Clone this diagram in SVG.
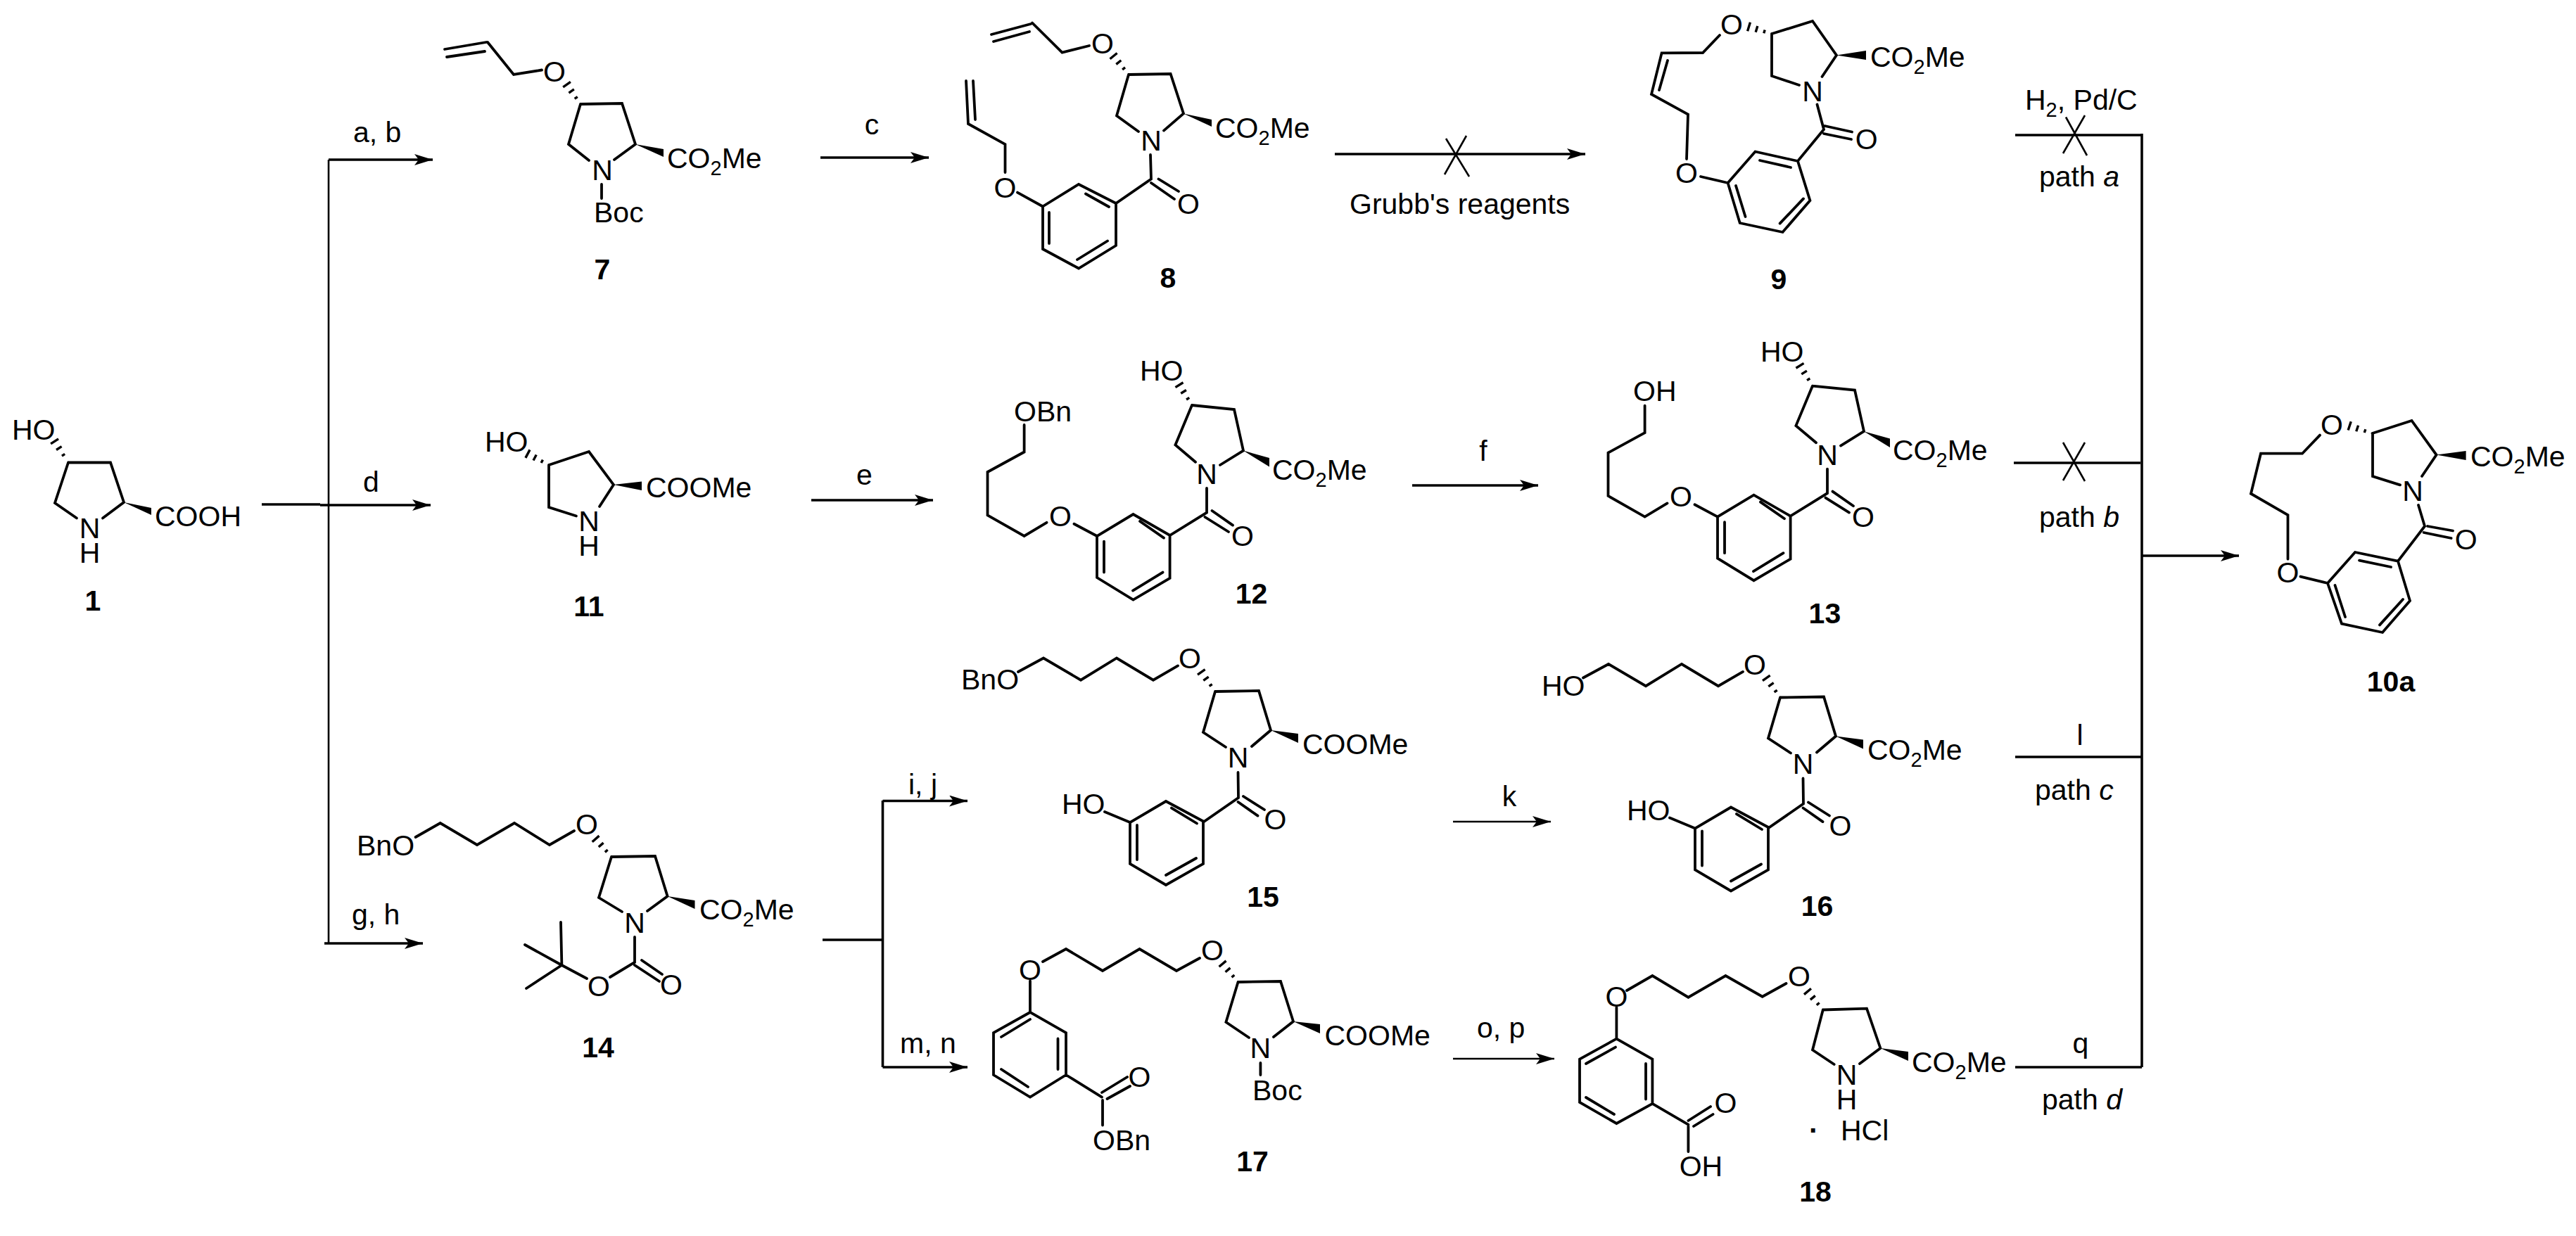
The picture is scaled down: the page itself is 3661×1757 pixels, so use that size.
<svg xmlns="http://www.w3.org/2000/svg" xmlns:xlink="http://www.w3.org/1999/xlink" width="3661" height="1757" viewBox="0 0 3661 1757">
<style>
text{font-family:"Liberation Sans",Arial,sans-serif;font-size:41px;fill:#000}
.m{text-anchor:middle}
.l{font-weight:bold;text-anchor:middle}
.s{font-size:29px}
.i{font-style:italic}
.d{font-weight:bold}
.b{fill:none;stroke:#000;stroke-width:3.8;stroke-linejoin:miter;stroke-linecap:round}
.h{fill:none;stroke:#000;stroke-width:3.4}
.c{fill:none;stroke:#000;stroke-width:3.6}
.a{marker-end:url(#ah)}
.x{fill:none;stroke:#000;stroke-width:2.6}
</style>
<defs>
<marker id="ah" markerUnits="userSpaceOnUse" markerWidth="27" markerHeight="16" refX="26" refY="8" orient="auto"><path d="M26,8L0,0L6,8L0,16Z"/></marker>
<path id="hash" class="h" d="M11,-2.5V2.5M22.5,-4.5V4.5M34,-6.5V6.5"/>
<g id="sk12">
<path class="b" d="M1694,576L1754,582L1767,640.6L1734,661M1699,656.7L1670.4,632.5L1694,576M1715,694V728.6L1662.6,761L1610.5,731L1559,762V821L1610.5,852.6L1662.6,822V761M1722.5,726L1752,746.6M1712.5,735L1746,756M1620,741L1654,764.6M1569,769.6V813.6M1610,839.6L1652.5,813.6M1526.5,744.7L1559,762M1487.5,742.8L1455.6,762L1403.5,732.4V671L1455.6,642.5V604"/>
<use href="#hash" xlink:href="#hash" transform="translate(1694,576) rotate(-122)"/>
<polygon points="1767,640.6 1804,651 1804,663.5"/>
</g>
<g id="sk15">
<path class="b" d="M1447,955L1483,935.5L1536,966.7L1587,935.5L1639,966.7L1674,946.4M1727,983L1789,982L1806,1038L1779,1061M1742,1062L1710,1041L1727,983M1759.5,1098L1760,1134L1711,1168L1657,1139L1606,1169V1228L1657,1258L1710,1228V1168M1767,1132L1797,1151M1759.5,1140L1787.5,1159.6M1665,1148.6L1701,1170.5M1616,1173V1222M1657,1244L1700,1220M1570,1154L1606,1169"/>
<use href="#hash" xlink:href="#hash" transform="translate(1727,983) rotate(-125.4)"/>
<polygon points="1806,1038 1845,1043 1845,1056"/>
</g>
</defs>
<rect width="3661" height="1757" fill="#fff"/>
<g id="connectors">
<path class="c a" d="M467,227H615"/>
<path class="x" d="M467,227V1341"/>
<path class="c a" d="M461,1341H601"/>
<path class="c" d="M372,717H455"/>
<path class="c a" d="M455,718H612"/>
<path class="c a" d="M1166,224H1320"/>
<path class="c a" d="M1897,219H2253"/>
<path class="x" d="M2055,197L2088,251M2084,193L2053,248"/>
<path class="c a" d="M1153,711H1326"/>
<path class="c a" d="M2007,690H2186"/>
<path class="c" d="M1169,1336H1254.5M1254.5,1138V1517"/>
<path class="c a" d="M1254.5,1138.5H1375"/>
<path class="c a" d="M1254.5,1517H1375"/>
<path class="x a" d="M2065,1168H2204"/>
<path class="x a" d="M2065,1505H2209"/>
<path class="c" d="M3044,190V1517"/>
<path class="c" d="M2864,192H3044"/>
<path class="x" d="M2963,164L2932,218M2936,166.5L2966,221"/>
<path class="c" d="M2862,658H3042"/>
<path class="x" d="M2932,629L2963,684M2963,629L2932,683"/>
<path class="c a" d="M3045,790H3182"/>
<path class="c" d="M2864,1076H3044"/>
<path class="c" d="M2864,1517H3044"/>
<text x="502" y="202">a, b</text>
<text x="516" y="699">d</text>
<text x="500" y="1314">g, h</text>
<text class="m" x="1239" y="191">c</text>
<text x="1918" y="304">Grubb's reagents</text>
<text x="1217" y="689">e</text>
<text class="m" x="2108" y="655">f</text>
<text x="1291" y="1129">i, j</text>
<text x="1279" y="1497">m, n</text>
<text class="m" x="2145" y="1146">k</text>
<text x="2099" y="1475">o, p</text>
<text x="2878" y="156">H<tspan class="s" dy="10">2</tspan><tspan dy="-10">, Pd/C</tspan></text>
<text x="2898" y="265">path <tspan class="i">a</tspan></text>
<text x="2898" y="749">path <tspan class="i">b</tspan></text>
<text class="m" x="2956" y="1059">l</text>
<text x="2892" y="1137">path <tspan class="i">c</tspan></text>
<text class="m" x="2957" y="1497">q</text>
<text x="2902" y="1577">path <tspan class="i">d</tspan></text>
</g>
<g id="c1">
<path class="b" d="M97,657.5H157L176,714L146,736.5M109,736.5L78,715L97,657.5"/>
<use href="#hash" xlink:href="#hash" transform="translate(96,656) rotate(-122.8)"/>
<polygon points="176,714 215,722 215,732"/>
<text x="17" y="625">HO</text>
<text x="220" y="748">COOH</text>
<text class="m" x="127.5" y="765">N<tspan x="127.5" dy="35">H</tspan></text>
<text class="l" x="132" y="868">1</text>
</g>
<g id="c7">
<path class="b" d="M632,70L691,60M635,81L689,73M693,60L730,106L770,99.5M825,148L884,147L903,205L873,227M837,228L808,205L825,148M855,262V282"/>
<use href="#hash" xlink:href="#hash" transform="translate(825,148) rotate(-124.9)"/>
<polygon points="903,205 943,212 943,223"/>
<text class="m" x="788" y="116">O</text>
<text class="m" x="856" y="256">N</text>
<text x="948" y="239">CO<tspan class="s" dy="10">2</tspan><tspan dy="-10">Me</tspan></text>
<text x="844" y="316">Boc</text>
<text class="l" x="856" y="397">7</text>
</g>
<g id="c8">
<path class="b" d="M1409,49L1465,34M1412,59L1463,45M1467,32.5L1509.5,74.6L1548,65M1604,106L1663.6,105L1682,161.5L1654,185.6M1618,187L1587,164.5L1604,106M1635,220L1636,254.5L1586,289L1533,262L1482,293.5V354L1533,381.5L1586,349V289M1646.5,254.5L1675,272M1636,260L1669,283M1543,275.5L1576,294M1491,302V346M1531,369L1574,342.5M1446,273.6L1482,293.5M1428.5,245V205L1376,176L1373,115M1386,170L1383,115"/>
<use href="#hash" xlink:href="#hash" transform="translate(1604,106) rotate(-129.1)"/>
<polygon points="1682,161.5 1722,170 1722,180"/>
<text class="m" x="1567" y="76">O</text>
<text class="m" x="1636" y="214">N</text>
<text x="1727" y="196">CO<tspan class="s" dy="10">2</tspan><tspan dy="-10">Me</tspan></text>
<text class="m" x="1689" y="304">O</text>
<text class="m" x="1428.5" y="281">O</text>
<text class="l" x="1660" y="409">8</text>
</g>
<g id="c9">
<path class="b" d="M2444,50L2420,75L2361.6,75.4L2347,134L2399,162.6L2397,226M2370,86L2358,128M2518,48L2576,30L2610,78.5L2589.5,109M2557,121L2518,108V48M2582.5,148.5L2592,184L2555,229L2494.5,215.5L2455.6,260L2472.7,317L2533.5,330L2572.4,285L2555,229M2593.4,179L2632,187.5M2592,190L2631,198M2501,228L2545,238M2467,264L2480.5,308M2529.6,317.6L2563,282.4M2417,251L2455.6,260"/>
<use href="#hash" xlink:href="#hash" transform="translate(2518,48) rotate(-162.9)"/>
<polygon points="2610,78.5 2652,72 2652,85"/>
<text class="m" x="2461" y="49">O</text>
<text class="m" x="2576" y="143.5">N</text>
<text x="2658" y="94.5">CO<tspan class="s" dy="10">2</tspan><tspan dy="-10">Me</tspan></text>
<text class="m" x="2652.6" y="211.6">O</text>
<text class="m" x="2397" y="260">O</text>
<text class="l" x="2528" y="410.6">9</text>
</g>
<g id="c10a">
<path class="b" d="M3297,618.6L3272,644.7H3213L3199,701.7L3251.5,732V794.7M3269.4,819.6L3308,829M3371.5,616L3427.5,598L3462.6,646.6L3442,677M3411,689.4L3372,677V616M3437,718L3446,748L3408,797.7L3347,785L3308,829L3328,886.5L3386,899L3425,854L3408,797.7M3450,748L3486,754.5M3444.6,757L3483.6,765M3353,796.6L3398,806M3318.5,832L3333,877M3382,888.4L3415,852"/>
<use href="#hash" xlink:href="#hash" transform="translate(3371.5,616) rotate(-161.8)"/>
<polygon points="3462.6,646.6 3504.6,641 3504.6,654"/>
<text class="m" x="3314" y="617.5">O</text>
<text class="m" x="3429" y="712.4">N</text>
<text x="3511" y="663.4">CO<tspan class="s" dy="10">2</tspan><tspan dy="-10">Me</tspan></text>
<text class="m" x="3504.6" y="780.5">O</text>
<text class="m" x="3251.5" y="828">O</text>
<text class="l" x="3398" y="983">10a</text>
</g>
<g id="c11">
<path class="b" d="M780,661L837,642L872,689L852,720M819,733.5L780,721V661"/>
<use href="#hash" xlink:href="#hash" transform="translate(780,661) rotate(-152.1)"/>
<polygon points="872,689 912,684.5 912,697"/>
<text x="689" y="642">HO</text>
<text x="918" y="707">COOMe</text>
<text class="m" x="837" y="754.5">N<tspan x="837" dy="35.5">H</tspan></text>
<text class="l" x="837" y="876">11</text>
</g>
<g id="c12">
<use href="#sk12" xlink:href="#sk12"/>
<text x="1620" y="541">HO</text>
<text x="1441" y="598.5">OBn</text>
<text class="m" x="1715" y="688.4">N</text>
<text x="1808" y="681.5">CO<tspan class="s" dy="10">2</tspan><tspan dy="-10">Me</tspan></text>
<text class="m" x="1766" y="776.4">O</text>
<text class="m" x="1507" y="747.7">O</text>
<text class="l" x="1778.6" y="857.6">12</text>
</g>
<g id="c13">
<use href="#sk12" xlink:href="#sk12" transform="translate(882,-27.4)"/>
<text x="2502" y="513.6">HO</text>
<text x="2321" y="570">OH</text>
<text class="m" x="2597" y="661">N</text>
<text x="2690" y="654">CO<tspan class="s" dy="10">2</tspan><tspan dy="-10">Me</tspan></text>
<text class="m" x="2648" y="749">O</text>
<text class="m" x="2389" y="720.3">O</text>
<text class="l" x="2593.4" y="886">13</text>
</g>
<g id="c14">
<path class="b" d="M590.6,1190L625.7,1170L678,1201L731,1170L781,1201L816,1181M869,1218L931,1217L948.6,1274L920,1295M884,1296L851,1276L869,1218M902,1332V1368L867,1389M912,1365L941,1385M902,1372L937,1395M834,1391L798.4,1372L797,1311M798.4,1372L746,1343M798.4,1372L748,1405"/>
<use href="#hash" xlink:href="#hash" transform="translate(869,1218) rotate(-131.2)"/>
<polygon points="948.6,1274 987.5,1280 987.5,1292"/>
<text x="507" y="1215.6">BnO</text>
<text class="m" x="834" y="1186">O</text>
<text class="m" x="902" y="1326">N</text>
<text x="994" y="1306.5">CO<tspan class="s" dy="10">2</tspan><tspan dy="-10">Me</tspan></text>
<text class="m" x="954" y="1414">O</text>
<text class="m" x="851" y="1416">O</text>
<text class="l" x="850" y="1503">14</text>
</g>
<g id="c15">
<use href="#sk15" xlink:href="#sk15"/>
<text x="1366" y="980">BnO</text>
<text class="m" x="1691" y="950">O</text>
<text class="m" x="1759.5" y="1091">N</text>
<text x="1851" y="1072">COOMe</text>
<text class="m" x="1812.5" y="1179">O</text>
<text x="1509" y="1157">HO</text>
<text class="l" x="1795" y="1289">15</text>
</g>
<g id="c16">
<use href="#sk15" xlink:href="#sk15" transform="translate(803,8.5)"/>
<text x="2191" y="988.5">HO</text>
<text class="m" x="2494" y="958.5">O</text>
<text class="m" x="2562.5" y="1099.5">N</text>
<text x="2654" y="1080">CO<tspan class="s" dy="10">2</tspan><tspan dy="-10">Me</tspan></text>
<text class="m" x="2615.5" y="1187.5">O</text>
<text x="2312" y="1165.5">HO</text>
<text class="l" x="2582.5" y="1302">16</text>
</g>
<g id="c17">
<path class="b" d="M1482,1367L1515,1349L1567,1380L1619.5,1349L1672,1380L1705,1362M1759.5,1396L1820,1395L1838,1452L1810,1474M1775,1475L1742.4,1453L1759.5,1396M1791.4,1511V1528M1464,1394.5V1439L1515,1468V1528L1464,1559.6L1412,1528V1468L1464,1439M1464,1449L1423,1474M1503.5,1476.5V1520M1423,1520L1461,1545M1515,1528L1566,1559.6M1566,1553L1602,1531M1573.5,1562L1606,1544M1567,1564V1599.5"/>
<use href="#hash" xlink:href="#hash" transform="translate(1759.5,1396) rotate(-130.2)"/>
<polygon points="1838,1452 1876,1456 1876,1469"/>
<text class="m" x="1464" y="1393">O</text>
<text class="m" x="1723" y="1364.5">O</text>
<text class="m" x="1791.4" y="1504">N</text>
<text x="1882.5" y="1486">COOMe</text>
<text x="1780" y="1564">Boc</text>
<text class="m" x="1619.5" y="1545">O</text>
<text x="1553" y="1635">OBn</text>
<text class="l" x="1780" y="1665">17</text>
</g>
<g id="c18">
<path class="b" d="M2312,1408L2348.4,1387L2399.4,1417.7L2452.4,1387L2504.7,1416.7L2538.5,1398M2590.8,1435.5L2653,1433.6L2672.4,1490L2643,1512M2606.7,1513L2576,1492.5L2590.8,1435.5M2297.4,1432V1476.6L2348.4,1505.6V1568.8L2297.4,1597L2245,1567V1505.6L2297.4,1476.6M2296,1488.6L2254,1512M2339,1512V1562.5M2254,1560L2294,1584M2348.4,1568.8L2399.4,1598.7M2399.4,1593L2431,1573M2407,1601L2434.5,1584M2399.4,1601V1637"/>
<use href="#hash" xlink:href="#hash" transform="translate(2590.8,1435.5) rotate(-130)"/>
<polygon points="2672.4,1490 2712,1495 2712,1508"/>
<text class="m" x="2297.4" y="1431">O</text>
<text class="m" x="2557" y="1402">O</text>
<text class="m" x="2624.6" y="1542">N<tspan x="2624.6" dy="35">H</tspan></text>
<text x="2717" y="1524">CO<tspan class="s" dy="10">2</tspan><tspan dy="-10">Me</tspan></text>
<text class="m" x="2452.4" y="1582">O</text>
<text x="2386.7" y="1672">OH</text>
<text x="2571" y="1620.5"><tspan class="d">·</tspan><tspan x="2616">HCl</tspan></text>
<text class="l" x="2580" y="1708">18</text>
</g>
</svg>
